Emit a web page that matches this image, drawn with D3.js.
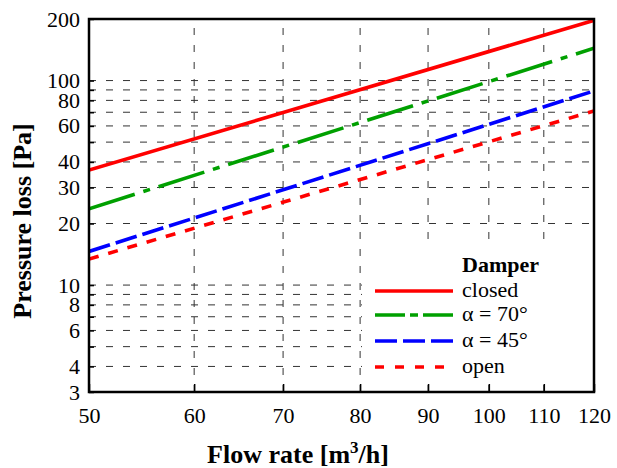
<!DOCTYPE html>
<html>
<head>
<meta charset="utf-8">
<script src="https://cdn.jsdelivr.net/npm/d3@7"></script>
<style>
  body { margin: 0; background: #fff; }
  svg { display: block; }
  text { font-family: "Liberation Serif", "Times New Roman", serif; }
</style>
</head>
<body>
<svg id="chart" width="617" height="468"></svg>
<script>
// ---- data ----
const flowRates = [50, 120];                 // m3/h, end points of each straight log-log line
const closedValues = [36.5, 197];            // Pa
const alpha70Values = [23.6, 144];
const alpha45Values = [14.6, 89];
const openValues = [13.4, 71];
const seriesNames = ["closed", "α = 70°", "α = 45°", "open"];
const xTickLabels = [50, 60, 70, 80, 90, 100, 110, 120];
const yTickLabels = [3, 4, 6, 8, 10, 20, 30, 40, 60, 80, 100, 200];
const yGridValues = [4, 5, 6, 7, 8, 9, 10, 20, 30, 40, 50, 60, 70, 80, 90, 100];
const yTickValues = [3, 4, 5, 6, 7, 8, 9, 10, 20, 30, 40, 50, 60, 70, 80, 90, 100, 200];
const xGridValues = [60, 70, 80, 90, 100, 110];

// ---- layout ----
const L = 89, R = 594, T = 19, B = 392;
const svg = d3.select("#chart");
const x = d3.scaleLog().domain([50, 120]).range([L, R]);
const y = d3.scaleLog().domain([3, 200]).range([B, T]);

svg.append("defs").append("clipPath").attr("id", "clip")
  .append("rect").attr("x", L).attr("y", T).attr("width", R - L).attr("height", B - T);

// gridlines
const grid = svg.append("g").attr("stroke", "#333").attr("stroke-width", 1).attr("stroke-dasharray", "7,10");
grid.selectAll(".hg").data(yGridValues).join("line")
  .attr("x1", L).attr("x2", R).attr("y1", d => y(d)).attr("y2", d => y(d));
grid.selectAll(".vg").data(xGridValues).join("line")
  .attr("y1", B).attr("y2", T).attr("x1", d => x(d)).attr("x2", d => x(d));

// legend background (hides gridlines)
svg.append("rect").attr("x", 362).attr("y", 243).attr("width", R - 362 - 1).attr("height", 141).attr("fill", "#fff");

// series
const series = [
  { name: seriesNames[0], values: closedValues, color: "#ff0000", dash: null, legendDash: null },
  { name: seriesNames[1], values: alpha70Values, color: "#00a000", dash: "48,9,7,9", legendDash: "30,5,8,5" },
  { name: seriesNames[2], values: alpha45Values, color: "#0000ff", dash: "22,6", legendDash: "22,6" },
  { name: seriesNames[3], values: openValues, color: "#ff0000", dash: "10,10", legendDash: "9,11" }
];
const line = d3.line().x(d => x(d[0])).y(d => y(d[1]));
const lines = svg.append("g").attr("clip-path", "url(#clip)");
series.forEach(s => {
  lines.append("path")
    .datum(flowRates.map((f, i) => [f, s.values[i]]))
    .attr("d", line).attr("fill", "none")
    .attr("stroke", s.color).attr("stroke-width", 3.6)
    .attr("stroke-dasharray", s.dash);
});

// axes
const yAxis = d3.axisLeft(y).tickValues(yTickValues).tickSize(-5).tickPadding(9)
  .tickFormat(d => yTickLabels.includes(d) ? d : "");
const gy = svg.append("g").attr("transform", `translate(${L},0)`).call(yAxis);
const xAxis = d3.axisBottom(x).tickValues(xTickLabels).tickSize(-8).tickPadding(15)
  .tickFormat(d => d);
const gx = svg.append("g").attr("transform", `translate(0,${B})`).call(xAxis);
[gx, gy].forEach(g => {
  g.select(".domain").remove();
  g.selectAll("line").attr("stroke", "#000").attr("stroke-width", 1.5);
  g.selectAll("text").attr("font-size", 22).attr("fill", "#000")
    .style("font-family", '"Liberation Serif", "Times New Roman", serif');
});

// frame
svg.append("rect").attr("x", L).attr("y", T).attr("width", R - L).attr("height", B - T)
  .attr("fill", "none").attr("stroke", "#000").attr("stroke-width", 2.5);

// axis titles
const xt = svg.append("text").attr("x", 298).attr("y", 463).attr("text-anchor", "middle")
  .attr("font-size", 26).attr("font-weight", "bold");
xt.append("tspan").text("Flow rate [m");
xt.append("tspan").attr("font-size", 17).attr("dy", -10).text("3");
xt.append("tspan").attr("dy", 10).text("/h]");

svg.append("text").attr("transform", "translate(31,221) rotate(-90)")
  .attr("text-anchor", "middle").attr("font-size", 26).attr("font-weight", "bold")
  .text("Pressure loss [Pa]");

// legend
const lg = svg.append("g");
lg.append("text").attr("x", 462).attr("y", 272).attr("font-size", 22).attr("font-weight", "bold").text("Damper");
const legendY = [291, 315, 341, 367];
series.forEach((s, i) => {
  lg.append("line").attr("x1", 375).attr("x2", 453).attr("y1", legendY[i]).attr("y2", legendY[i])
    .attr("stroke", s.color).attr("stroke-width", 3.6).attr("stroke-dasharray", s.legendDash);
  lg.append("text").attr("x", 462).attr("y", legendY[i] + 6).attr("font-size", 22).text(s.name);
});
</script>
</body>
</html>
